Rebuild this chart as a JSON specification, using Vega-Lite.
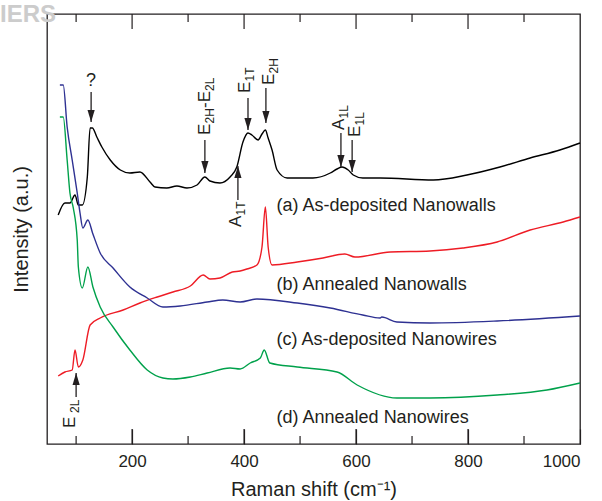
{
  "$schema": "https://vega.github.io/schema/vega-lite/v6.json",
  "width": 533,
  "height": 430,
  "autosize": {"type": "none"},
  "padding": {"left": 47, "top": 14, "right": 22, "bottom": 57},
  "background": "white",
  "title": {"text": "IERS", "anchor": "start", "frame": "group", "dx": -47, "dy": 27, "offset": -6, "baseline": "alphabetic", "color": "#cccccc", "fontSize": 24, "fontWeight": "bold", "font": "Liberation Sans"},
  "config": {
    "view": {"stroke": "#231f20", "strokeWidth": 1.3},
    "axis": {"labelFont": "Liberation Sans", "titleFont": "Liberation Sans", "labelColor": "#231f20", "titleColor": "#231f20", "titleFontWeight": "normal", "grid": false}
  },
  "datasets": {
    "spectra": [
      {"series": "a", "shift": 68, "intensity": 229},
      {"series": "a", "shift": 80, "intensity": 241},
      {"series": "a", "shift": 89, "intensity": 241},
      {"series": "a", "shift": 98, "intensity": 249},
      {"series": "a", "shift": 104, "intensity": 239},
      {"series": "a", "shift": 111, "intensity": 239},
      {"series": "a", "shift": 120, "intensity": 267},
      {"series": "a", "shift": 125, "intensity": 316},
      {"series": "a", "shift": 129, "intensity": 316},
      {"series": "a", "shift": 137, "intensity": 307},
      {"series": "a", "shift": 146, "intensity": 297},
      {"series": "a", "shift": 161, "intensity": 284},
      {"series": "a", "shift": 179, "intensity": 274},
      {"series": "a", "shift": 196, "intensity": 271},
      {"series": "a", "shift": 214, "intensity": 272},
      {"series": "a", "shift": 232, "intensity": 262},
      {"series": "a", "shift": 241, "intensity": 257},
      {"series": "a", "shift": 262, "intensity": 256},
      {"series": "a", "shift": 280, "intensity": 258},
      {"series": "a", "shift": 298, "intensity": 256},
      {"series": "a", "shift": 316, "intensity": 259},
      {"series": "a", "shift": 330, "intensity": 267},
      {"series": "a", "shift": 339, "intensity": 263},
      {"series": "a", "shift": 357, "intensity": 261},
      {"series": "a", "shift": 375, "intensity": 267},
      {"series": "a", "shift": 387, "intensity": 277},
      {"series": "a", "shift": 398, "intensity": 302},
      {"series": "a", "shift": 407, "intensity": 311},
      {"series": "a", "shift": 414, "intensity": 309},
      {"series": "a", "shift": 425, "intensity": 304},
      {"series": "a", "shift": 432, "intensity": 310},
      {"series": "a", "shift": 438, "intensity": 314},
      {"series": "a", "shift": 443, "intensity": 306},
      {"series": "a", "shift": 450, "intensity": 294},
      {"series": "a", "shift": 459, "intensity": 274},
      {"series": "a", "shift": 477, "intensity": 266},
      {"series": "a", "shift": 523, "intensity": 266},
      {"series": "a", "shift": 554, "intensity": 271},
      {"series": "a", "shift": 566, "intensity": 275},
      {"series": "a", "shift": 575, "intensity": 277},
      {"series": "a", "shift": 586, "intensity": 274},
      {"series": "a", "shift": 595, "intensity": 269},
      {"series": "a", "shift": 612, "intensity": 266},
      {"series": "a", "shift": 643, "intensity": 266},
      {"series": "a", "shift": 738, "intensity": 264},
      {"series": "a", "shift": 798, "intensity": 269},
      {"series": "a", "shift": 857, "intensity": 277},
      {"series": "a", "shift": 911, "intensity": 286},
      {"series": "a", "shift": 964, "intensity": 294},
      {"series": "a", "shift": 1000, "intensity": 301},
      {"series": "b", "shift": 68, "intensity": 68},
      {"series": "b", "shift": 80, "intensity": 72},
      {"series": "b", "shift": 93, "intensity": 74},
      {"series": "b", "shift": 98, "intensity": 94},
      {"series": "b", "shift": 104, "intensity": 77},
      {"series": "b", "shift": 112, "intensity": 84},
      {"series": "b", "shift": 125, "intensity": 119},
      {"series": "b", "shift": 143, "intensity": 126},
      {"series": "b", "shift": 184, "intensity": 134},
      {"series": "b", "shift": 214, "intensity": 141},
      {"series": "b", "shift": 245, "intensity": 147},
      {"series": "b", "shift": 273, "intensity": 152},
      {"series": "b", "shift": 304, "intensity": 158},
      {"series": "b", "shift": 327, "intensity": 169},
      {"series": "b", "shift": 339, "intensity": 165},
      {"series": "b", "shift": 357, "intensity": 166},
      {"series": "b", "shift": 379, "intensity": 172},
      {"series": "b", "shift": 393, "intensity": 173},
      {"series": "b", "shift": 405, "intensity": 175},
      {"series": "b", "shift": 423, "intensity": 179},
      {"series": "b", "shift": 432, "intensity": 197},
      {"series": "b", "shift": 438, "intensity": 237},
      {"series": "b", "shift": 443, "intensity": 197},
      {"series": "b", "shift": 450, "intensity": 179},
      {"series": "b", "shift": 495, "intensity": 182},
      {"series": "b", "shift": 541, "intensity": 186},
      {"series": "b", "shift": 580, "intensity": 190},
      {"series": "b", "shift": 598, "intensity": 187},
      {"series": "b", "shift": 661, "intensity": 192},
      {"series": "b", "shift": 732, "intensity": 193},
      {"series": "b", "shift": 791, "intensity": 196},
      {"series": "b", "shift": 852, "intensity": 202},
      {"series": "b", "shift": 911, "intensity": 214},
      {"series": "b", "shift": 970, "intensity": 222},
      {"series": "b", "shift": 1000, "intensity": 227},
      {"series": "c", "shift": 71, "intensity": 359},
      {"series": "c", "shift": 77, "intensity": 359},
      {"series": "c", "shift": 84, "intensity": 317},
      {"series": "c", "shift": 93, "intensity": 284},
      {"series": "c", "shift": 102, "intensity": 251},
      {"series": "c", "shift": 107, "intensity": 231},
      {"series": "c", "shift": 112, "intensity": 216},
      {"series": "c", "shift": 121, "intensity": 224},
      {"series": "c", "shift": 130, "intensity": 210},
      {"series": "c", "shift": 143, "intensity": 191},
      {"series": "c", "shift": 166, "intensity": 176},
      {"series": "c", "shift": 196, "intensity": 157},
      {"series": "c", "shift": 227, "intensity": 146},
      {"series": "c", "shift": 255, "intensity": 137},
      {"series": "c", "shift": 286, "intensity": 138},
      {"series": "c", "shift": 334, "intensity": 142},
      {"series": "c", "shift": 362, "intensity": 144},
      {"series": "c", "shift": 393, "intensity": 142},
      {"series": "c", "shift": 423, "intensity": 145},
      {"series": "c", "shift": 495, "intensity": 141},
      {"series": "c", "shift": 554, "intensity": 136},
      {"series": "c", "shift": 612, "intensity": 129},
      {"series": "c", "shift": 643, "intensity": 126},
      {"series": "c", "shift": 646, "intensity": 127},
      {"series": "c", "shift": 673, "intensity": 122},
      {"series": "c", "shift": 732, "intensity": 121},
      {"series": "c", "shift": 852, "intensity": 123},
      {"series": "c", "shift": 1000, "intensity": 128},
      {"series": "d", "shift": 71, "intensity": 327},
      {"series": "d", "shift": 77, "intensity": 327},
      {"series": "d", "shift": 84, "intensity": 284},
      {"series": "d", "shift": 89, "intensity": 251},
      {"series": "d", "shift": 95, "intensity": 236},
      {"series": "d", "shift": 102, "intensity": 204},
      {"series": "d", "shift": 104, "intensity": 177},
      {"series": "d", "shift": 111, "intensity": 156},
      {"series": "d", "shift": 121, "intensity": 177},
      {"series": "d", "shift": 130, "intensity": 157},
      {"series": "d", "shift": 143, "intensity": 137},
      {"series": "d", "shift": 166, "intensity": 117},
      {"series": "d", "shift": 196, "intensity": 94},
      {"series": "d", "shift": 227, "intensity": 74},
      {"series": "d", "shift": 255, "intensity": 66},
      {"series": "d", "shift": 273, "intensity": 65},
      {"series": "d", "shift": 304, "intensity": 67},
      {"series": "d", "shift": 334, "intensity": 71},
      {"series": "d", "shift": 375, "intensity": 76},
      {"series": "d", "shift": 393, "intensity": 75},
      {"series": "d", "shift": 411, "intensity": 81},
      {"series": "d", "shift": 429, "intensity": 86},
      {"series": "d", "shift": 436, "intensity": 94},
      {"series": "d", "shift": 446, "intensity": 81},
      {"series": "d", "shift": 495, "intensity": 77},
      {"series": "d", "shift": 566, "intensity": 72},
      {"series": "d", "shift": 602, "intensity": 59},
      {"series": "d", "shift": 673, "intensity": 46},
      {"series": "d", "shift": 732, "intensity": 46},
      {"series": "d", "shift": 852, "intensity": 49},
      {"series": "d", "shift": 941, "intensity": 54},
      {"series": "d", "shift": 1000, "intensity": 61}
    ],
    "ticks": [
      {"x": 100, "kind": "minor"},
      {"x": 200, "kind": "major"},
      {"x": 300, "kind": "minor"},
      {"x": 400, "kind": "major"},
      {"x": 500, "kind": "minor"},
      {"x": 600, "kind": "major"},
      {"x": 700, "kind": "minor"},
      {"x": 800, "kind": "major"},
      {"x": 900, "kind": "minor"}
    ],
    "curvelabels": [
      {"x": 458, "y": 233, "text": "(a) As-deposited Nanowalls"},
      {"x": 458, "y": 154, "text": "(b) Annealed Nanowalls"},
      {"x": 458, "y": 99, "text": "(c) As-deposited Nanowires"},
      {"x": 458, "y": 21, "text": "(d) Annealed Nanowires"}
    ],
    "labels": [
      {"kind": "plain", "x": 126.8, "y": 358, "text": "?"},
      {"kind": "main", "x": 338.4, "y": 309, "text": "E"},
      {"kind": "sub", "x": 338.4, "y": 320.5, "text": "2H"},
      {"kind": "main", "x": 338.4, "y": 336, "text": "-"},
      {"kind": "main", "x": 338.4, "y": 341.7, "text": "E"},
      {"kind": "sub", "x": 338.4, "y": 353, "text": "2L"},
      {"kind": "main", "x": 410.7, "y": 351, "text": "E"},
      {"kind": "sub", "x": 410.7, "y": 362.5, "text": "1T"},
      {"kind": "main", "x": 453, "y": 359, "text": "E"},
      {"kind": "sub", "x": 453, "y": 370.5, "text": "2H"},
      {"kind": "main", "x": 394.6, "y": 217, "text": "A"},
      {"kind": "sub", "x": 394.6, "y": 228.5, "text": "1T"},
      {"kind": "main", "x": 578.6, "y": 314, "text": "A"},
      {"kind": "sub", "x": 578.6, "y": 325.5, "text": "1L"},
      {"kind": "main", "x": 607, "y": 307, "text": "E"},
      {"kind": "sub", "x": 607, "y": 318.5, "text": "1L"},
      {"kind": "main", "x": 98.2, "y": 16, "text": "E"},
      {"kind": "sub", "x": 98.2, "y": 31, "text": "2L"}
    ],
    "arrows": [
      {"x": 126.8, "y": 352, "y2": 322, "dir": "down"},
      {"x": 330, "y": 304, "y2": 271, "dir": "down"},
      {"x": 407, "y": 346, "y2": 314, "dir": "down"},
      {"x": 439, "y": 356, "y2": 321, "dir": "down"},
      {"x": 573, "y": 311, "y2": 277, "dir": "down"},
      {"x": 593, "y": 304, "y2": 272, "dir": "down"},
      {"x": 389, "y": 244, "y2": 278, "dir": "up"},
      {"x": 100, "y": 47, "y2": 71, "dir": "up"}
    ]
  },
  "layer": [
    {
      "data": {"name": "spectra"},
      "mark": {"type": "line", "strokeWidth": 1.4, "interpolate": "monotone"},
      "encoding": {
        "x": {"field": "shift", "type": "quantitative", "scale": {"domain": [48, 1000], "nice": false, "zero": false},
          "axis": {"title": "Raman shift (cm⁻¹)", "titleFontSize": 20, "titlePadding": 10, "labelFontSize": 17, "labelPadding": 24,
            "values": [200, 400, 600, 800, 1000], "format": "d",
            "domain": false, "ticks": true, "tickColor": "#231f20", "tickWidth": 1.2, "tickSize": -15}},
        "y": {"field": "intensity", "type": "quantitative", "scale": {"domain": [0, 430], "nice": false, "zero": false},
          "axis": {"title": "Intensity (a.u.)", "titleFontSize": 20, "titleX": -20, "titleY": 215, "titleAngle": 270, "titleAlign": "center", "titleBaseline": "alphabetic",
            "labels": true, "labelExpr": "''", "ticks": false, "domain": false}},
        "color": {"field": "series", "type": "nominal", "scale": {"domain": ["a", "b", "c", "d"], "range": ["#000000", "#ee1c25", "#2e3192", "#00a14b"]}, "legend": null}
      }
    },
    {
      "data": {"name": "ticks"},
      "transform": [{"filter": "datum.kind === 'major'"}],
      "mark": {"type": "rule", "color": "#231f20", "strokeWidth": 1.2},
      "encoding": {
        "x": {"field": "x", "type": "quantitative"},
        "y": {"datum": 0},
        "y2": {"datum": 15}
      }
    },
    {
      "data": {"name": "ticks"},
      "transform": [{"filter": "datum.kind === 'minor'"}],
      "mark": {"type": "rule", "color": "#231f20", "strokeWidth": 1.2},
      "encoding": {
        "x": {"field": "x", "type": "quantitative"},
        "y": {"datum": 0},
        "y2": {"datum": 8}
      }
    },
    {
      "data": {"name": "ticks"},
      "transform": [{"filter": "datum.kind === 'major'"}],
      "mark": {"type": "rule", "color": "#231f20", "strokeWidth": 1.2},
      "encoding": {
        "x": {"field": "x", "type": "quantitative"},
        "y": {"datum": 430},
        "y2": {"datum": 415}
      }
    },
    {
      "data": {"name": "ticks"},
      "transform": [{"filter": "datum.kind === 'minor'"}],
      "mark": {"type": "rule", "color": "#231f20", "strokeWidth": 1.2},
      "encoding": {
        "x": {"field": "x", "type": "quantitative"},
        "y": {"datum": 430},
        "y2": {"datum": 422}
      }
    },
    {
      "data": {"name": "arrows"},
      "mark": {"type": "rule", "color": "#231f20", "strokeWidth": 1.3},
      "encoding": {
        "x": {"field": "x", "type": "quantitative"},
        "y": {"field": "y", "type": "quantitative"},
        "y2": {"field": "y2"}
      }
    },
    {
      "data": {"name": "arrows"},
      "transform": [{"filter": "datum.dir === 'down'"}],
      "mark": {"type": "point", "shape": "M-0.6,-2L0.6,-2L0,0Z", "size": 144, "filled": true, "color": "#231f20", "opacity": 1, "strokeWidth": 0},
      "encoding": {
        "x": {"field": "x", "type": "quantitative"},
        "y": {"field": "y2", "type": "quantitative"}
      }
    },
    {
      "data": {"name": "arrows"},
      "transform": [{"filter": "datum.dir === 'up'"}],
      "mark": {"type": "point", "shape": "M-0.6,2L0.6,2L0,0Z", "size": 144, "filled": true, "color": "#231f20", "opacity": 1, "strokeWidth": 0},
      "encoding": {
        "x": {"field": "x", "type": "quantitative"},
        "y": {"field": "y2", "type": "quantitative"}
      }
    },
    {
      "data": {"name": "curvelabels"},
      "mark": {"type": "text", "align": "left", "baseline": "alphabetic", "fontSize": 18, "font": "Liberation Sans", "color": "#231f20"},
      "encoding": {
        "x": {"field": "x", "type": "quantitative"},
        "y": {"field": "y", "type": "quantitative"},
        "text": {"field": "text"}
      }
    },
    {
      "data": {"name": "labels"},
      "transform": [{"filter": "datum.kind === 'main'"}],
      "mark": {"type": "text", "angle": 270, "align": "left", "baseline": "alphabetic", "fontSize": 17, "font": "Liberation Sans", "color": "#231f20"},
      "encoding": {
        "x": {"field": "x", "type": "quantitative"},
        "y": {"field": "y", "type": "quantitative"},
        "text": {"field": "text"}
      }
    },
    {
      "data": {"name": "labels"},
      "transform": [{"filter": "datum.kind === 'sub'"}],
      "mark": {"type": "text", "angle": 270, "align": "left", "baseline": "alphabetic", "fontSize": 12, "dy": 4, "font": "Liberation Sans", "color": "#231f20"},
      "encoding": {
        "x": {"field": "x", "type": "quantitative"},
        "y": {"field": "y", "type": "quantitative"},
        "text": {"field": "text"}
      }
    },
    {
      "data": {"name": "labels"},
      "transform": [{"filter": "datum.kind === 'plain'"}],
      "mark": {"type": "text", "align": "center", "baseline": "alphabetic", "fontSize": 18, "font": "Liberation Sans", "color": "#231f20"},
      "encoding": {
        "x": {"field": "x", "type": "quantitative"},
        "y": {"field": "y", "type": "quantitative"},
        "text": {"field": "text"}
      }
    }
  ]
}
